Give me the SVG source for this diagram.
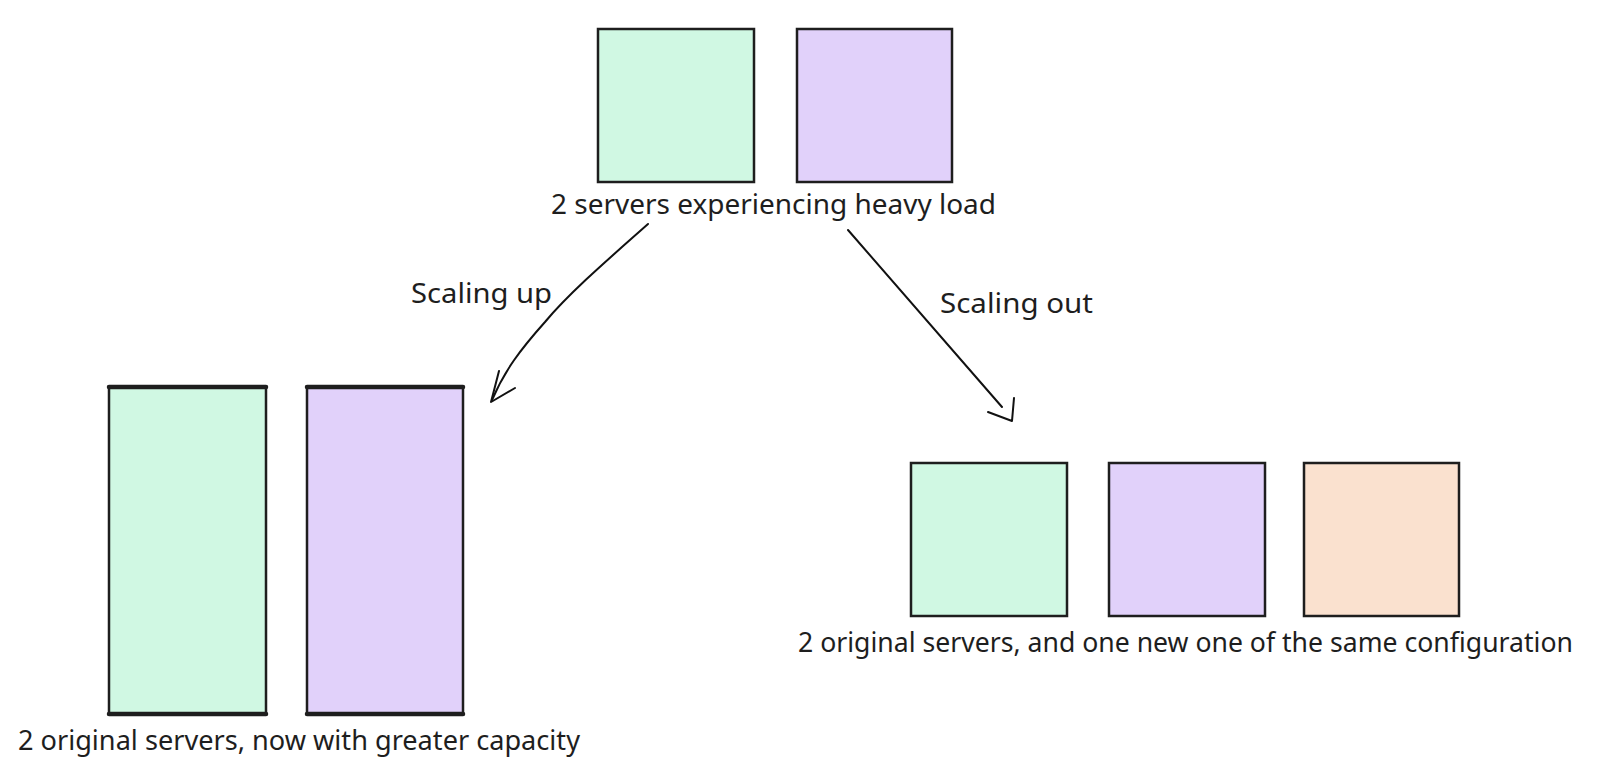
<svg xmlns="http://www.w3.org/2000/svg" width="1597" height="783" viewBox="0 0 1597 783">
<style>
.box{stroke:#1e1e1e;stroke-width:2.5}
.g{fill:#d0f8e3}.p{fill:#e1d1fa}.o{fill:#fae1cf}
.edge{stroke:#1e1e1e;stroke-width:4.5;stroke-linecap:round}
.t{font-family:"Noto Sans","Open Sans",sans-serif;font-size:27px;fill:#1e1e1e}
.c{fill:none;stroke:#111;stroke-width:2;stroke-linecap:round;stroke-linejoin:round}
</style>
<rect width="1597" height="783" fill="#fff"/>
<g id="top-green"><rect class="box g" x="598" y="29" width="156" height="153"/></g>
<g id="top-purple"><rect class="box p" x="797" y="29" width="155" height="153"/></g>
<g id="top-label"><text class="t" x="551" y="214" textLength="445" lengthAdjust="spacingAndGlyphs">2 servers experiencing heavy load</text></g>
<g id="up-green"><rect class="box g" x="109" y="387" width="157" height="327"/><line class="edge" x1="109" y1="387" x2="266" y2="387"/><line class="edge" x1="109" y1="714" x2="266" y2="714"/></g>
<g id="up-purple"><rect class="box p" x="307" y="387" width="156" height="327"/><line class="edge" x1="307" y1="387" x2="463" y2="387"/><line class="edge" x1="307" y1="714" x2="463" y2="714"/></g>
<g id="up-label"><text class="t" x="18" y="750" textLength="562" lengthAdjust="spacingAndGlyphs">2 original servers, now with greater capacity</text></g>
<g id="out-green"><rect class="box g" x="911" y="463" width="156" height="153"/></g>
<g id="out-purple"><rect class="box p" x="1109" y="463" width="156" height="153"/></g>
<g id="out-orange"><rect class="box o" x="1304" y="463" width="155" height="153"/></g>
<g id="out-label"><text class="t" x="798" y="652" textLength="775" lengthAdjust="spacingAndGlyphs">2 original servers, and one new one of the same configuration</text></g>
<g id="connectors">
<path class="c" d="M648,224 C612,256 570,292 545,322 C520,350 505,370 492,400"/>
<polyline class="c" points="499,371 491,402 515,388"/>
<line class="c" x1="848" y1="230" x2="1002" y2="407"/>
<polyline class="c" points="988,412 1012,421 1014,398"/>
<text class="t" x="411" y="303" textLength="141" lengthAdjust="spacingAndGlyphs">Scaling up</text>
<text class="t" x="940" y="313" textLength="153" lengthAdjust="spacingAndGlyphs">Scaling out</text>
</g>
</svg>
